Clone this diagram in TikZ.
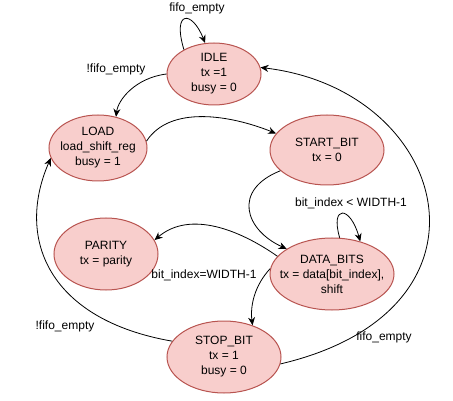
\documentclass[tikz,border=0pt]{standalone}
\usepackage{fontspec}
\setmainfont{Liberation Sans}
\usetikzlibrary{shapes.geometric,arrows.meta}
\definecolor{stfill}{HTML}{F8CECC}
\definecolor{stdraw}{HTML}{B85450}
\begin{document}
\begin{tikzpicture}[x=1pt,y=-1pt,
  state/.style={ellipse,draw=stdraw,fill=stfill,line width=1pt,inner sep=0pt},
  statetext/.style={align=center,inner sep=0pt,font=\fontsize{12}{15}\selectfont},
  edge/.style={line width=0.8pt,-{Stealth[length=8pt,width=7pt]}},
  lbl/.style={font=\fontsize{12}{15}\selectfont,inner sep=1pt}]
\useasboundingbox (0,0) rectangle (453,401);
\node[state,minimum width=94pt,minimum height=62pt,label={[statetext]center:IDLE\\tx =1\\busy = 0}] (idle) at (214,74) {};
\node[state,minimum width=98pt,minimum height=66pt,label={[statetext]center:LOAD\\load\_shift\_reg\\busy = 1}] (load) at (98,148) {};
\node[state,minimum width=114pt,minimum height=70pt,label={[statetext]center:START\_BIT\\tx = 0}] (start) at (327,150) {};
\node[state,minimum width=104pt,minimum height=72pt,label={[statetext]center:PARITY\\tx = parity}] (parity) at (106,254) {};
\node[state,minimum width=124pt,minimum height=72pt,label={[statetext]center:DATA\_BITS\\tx = data[bit\_index],\\shift}] (data) at (332,274) {};
\node[state,minimum width=114pt,minimum height=72pt,label={[statetext]center:STOP\_BIT\\tx = 1\\busy = 0}] (stop) at (224,357) {};
% edges
\draw[edge] (idle.141) .. controls (172,10) and (192,10) .. (idle.106);
\node[lbl] (l1) at (197,8) {fifo\_empty};
\draw[edge] (idle.180) .. controls (135,78) and (118,100) .. (load.60);
\node[lbl] (l2) at (116,69) {!fifo\_empty};
\draw[edge] (load.8) .. controls (170,105) and (230,115) .. (start.162);
\draw[edge] (start.204) .. controls (232,190) and (245,230) .. (data.151);
\draw[edge] (data.78) .. controls (330,205) and (350,205) .. (data.49);
\node[lbl] (l3) at (351,203) {bit\_index < WIDTH-1};
\draw[edge] (data.162) .. controls (240,230) and (190,210) .. (parity.16);
\draw[edge] (data.175) .. controls (255,285) and (250,305) .. (stop.48);
\node[lbl] (l4) at (204,275) {bit\_index=WIDTH-1};
\draw[edge] (stop.163) .. controls (50,320) and (15,240) .. (load.192);
\node[lbl] (l5) at (65,326) {!fifo\_empty};
\draw[edge] (stop.353) .. controls (510,310) and (450,90) .. (idle.8);
\node[lbl] (l6) at (384,337) {fifo\_empty};
\end{tikzpicture}
\end{document}
